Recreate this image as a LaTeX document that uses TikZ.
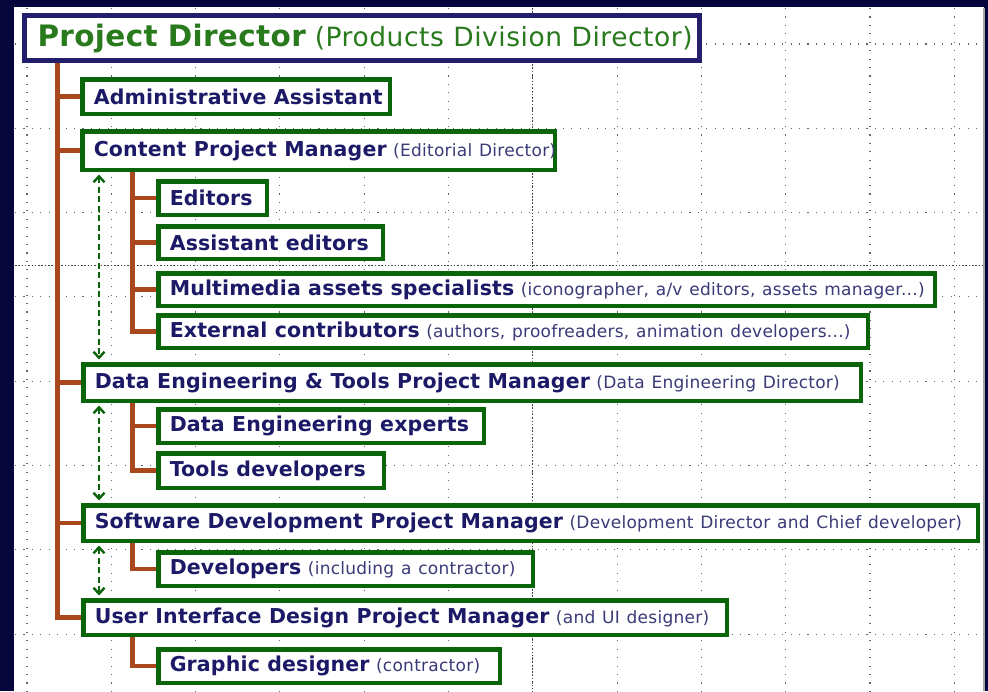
\documentclass[tikz,border=0pt]{standalone}
\usepackage{fontspec}
\setmainfont{DejaVu Sans}
\usetikzlibrary{arrows.meta}
\definecolor{navybg}{HTML}{06063C}
\definecolor{navytxt}{HTML}{1C1A66}
\definecolor{partxt}{HTML}{3A3A78}
\definecolor{boxgreen}{HTML}{0A640A}
\definecolor{titlenavy}{HTML}{221E6C}
\definecolor{titlegreen}{HTML}{287A1C}
\definecolor{branch}{HTML}{A8481C}
\definecolor{griddot}{HTML}{666666}
\newcommand\bt[1]{{\fontsize{20.5}{24}\selectfont\bfseries\addfontfeatures{LetterSpace=0.8}\spaceskip=0.36em\relax #1}}
\newcommand\ptx[1]{{\fontsize{17}{20}\selectfont\mdseries\addfontfeatures{LetterSpace=1.5}\spaceskip=0.4em\relax\color{partxt}#1}}
\newcommand\orgbox[6]{%
  \pgfmathsetmacro\bw{#4-#2-4.5}%
  \pgfmathsetmacro\bh{#5-#3-4.5}%
  \pgfmathsetmacro\tw{\bw-2*11.5}%
  \node[gbox, anchor=north west, minimum width=\bw pt, minimum height=\bh pt] (#1) at (#2,#3) {\makebox[\tw pt][l]{#6}};%
}
\tikzset{
  gbox/.style={draw=boxgreen, line width=4.5pt, fill=white, inner xsep=11.5pt, inner ysep=0pt, text=navytxt, font=\fontsize{20.5}{24}\selectfont},
  tbox/.style={draw=titlenavy, line width=5pt, fill=white, inner xsep=13pt, inner ysep=0pt, text=titlegreen},
  conn/.style={draw=branch, line width=4.5pt},
  dar/.style={draw=boxgreen, line width=2.4pt, dash pattern=on 6pt off 3.5pt, {Straight Barb[length=6pt,width=11pt]}-{Straight Barb[length=6pt,width=11pt]}, shorten <=2.5pt, shorten >=2.5pt},
  grid/.style={draw=griddot, line width=1.1pt, dash pattern=on 1.1pt off 7.33pt},
  pbreak/.style={draw=black!75, line width=1pt, dash pattern=on 1.5pt off 1.8pt}
}
\begin{document}
\begin{tikzpicture}[x=1pt,y=-1pt]
\useasboundingbox (0,0) rectangle (988,691);
\fill[navybg] (0,0) rectangle (988,691);
\fill[white] (14,7) rectangle (984,691);
\draw[gray!70, line width=1.2pt] (984,8) -- (984,691);
% grid
\foreach \k in {0,...,11} {\draw[grid] ({27+84.3*\k},8) -- ({27+84.3*\k},691);}
\foreach \k in {0,...,7} {\draw[grid] (15,{44+84.3*\k}) -- (983,{44+84.3*\k});}
\draw[pbreak] (532,8) -- (532,691);
\draw[pbreak] (15,265) -- (983,265);

% title box
\pgfmathsetmacro\tbw{702-22-5}
\pgfmathsetmacro\tbh{63-13-5}
\pgfmathsetmacro\ttw{\tbw-26}
\node[tbox, anchor=north west, minimum width=\tbw pt, minimum height=\tbh pt] (pd) at (22,13)
  {\makebox[\ttw pt][l]{{\fontsize{29.5}{34}\selectfont\bfseries\addfontfeatures{LetterSpace=1.2}\spaceskip=0.34em\relax Project Director}\hspace{9pt}{\fontsize{26.5}{30}\selectfont\addfontfeatures{LetterSpace=2}\spaceskip=0.36em\relax(Products Division Director)}}};

% boxes
\orgbox{aa}{80}{77}{392}{116}{\bt{Administrative Assistant}}
\orgbox{cpm}{80}{129}{557}{172}{\bt{Content Project Manager} \ptx{(Editorial Director)}}
\orgbox{ed}{156}{179}{269}{217}{\bt{Editors}}
\orgbox{ae}{156}{224}{385}{261}{\bt{Assistant editors}}
\orgbox{mm}{156}{271}{937}{308}{\bt{Multimedia assets specialists} \ptx{(iconographer, a/v editors, assets manager...)}}
\orgbox{ec}{156}{313}{870}{350}{\bt{External contributors} \ptx{(authors, proofreaders, animation developers...)}}
\orgbox{de}{81}{362}{863}{403}{\bt{Data Engineering \& Tools Project Manager} \ptx{(Data Engineering Director)}}
\orgbox{dex}{156}{407}{486}{445}{\bt{Data Engineering experts}}
\orgbox{td}{156}{451}{386}{490}{\bt{Tools developers}}
\orgbox{sd}{81}{503}{980}{543}{\bt{Software Development Project Manager} \ptx{(Development Director and Chief developer)}}
\orgbox{dv}{156}{550}{535}{588}{\bt{Developers} \ptx{(including a contractor)}}
\orgbox{ui}{81}{598}{729}{637}{\bt{User Interface Design Project Manager} \ptx{(and UI designer)}}
\orgbox{gd}{156}{647}{502}{685}{\bt{Graphic designer} \ptx{(contractor)}}

% connectors
\coordinate (trunk) at (57.5,63);
\coordinate (cb) at (132.5,172);
\coordinate (db) at (132.5,403);
\coordinate (sb) at (132.5,543);
\coordinate (ub) at (132.5,637);
\coordinate (dx) at (99,0);
\draw[conn] (trunk) |- (ui.west);
\foreach \n in {aa,cpm,de,sd} {\draw[conn] (trunk |- \n.west) -- (\n.west);}
\draw[conn] (cb) |- (ec.west);
\foreach \n in {ed,ae,mm} {\draw[conn] (cb |- \n.west) -- (\n.west);}
\draw[conn] (db) |- (td.west);
\draw[conn] (db |- dex.west) -- (dex.west);
\draw[conn] (sb) |- (dv.west);
\draw[conn] (ub) |- (gd.west);
\draw[dar] (cpm.south -| dx) -- (de.north -| dx);
\draw[dar] (de.south -| dx) -- (sd.north -| dx);
\draw[dar] (sd.south -| dx) -- (ui.north -| dx);
\end{tikzpicture}
\end{document}
